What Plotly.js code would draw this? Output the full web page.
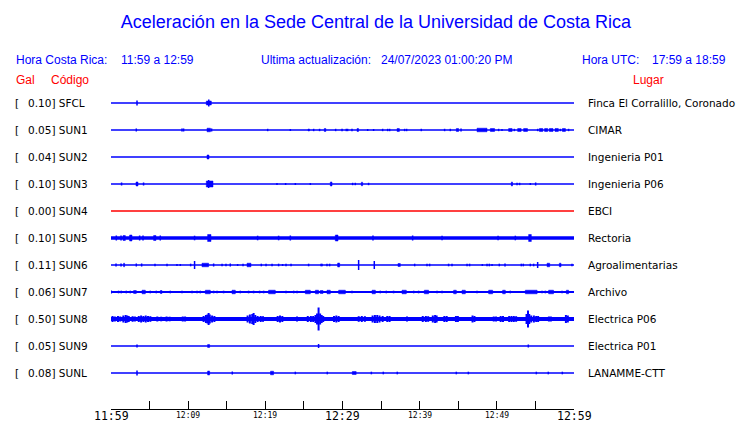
<!DOCTYPE html>
<html>
<head>
<meta charset="utf-8">
<script src="https://cdn.plot.ly/plotly-3.0.1.min.js"></script>
<style>html,body{margin:0;padding:0;background:#fff;}#chart{width:740px;height:423px;}</style>
</head>
<body>
<div id="chart"></div>
<script>
// ---------------- DATA ----------------
const codes = ['SFCL','SUN1','SUN2','SUN3','SUN4','SUN5','SUN6','SUN7','SUN8','SUN9','SUNL'];
const places = ['Finca El Corralillo, Coronado','CIMAR','Ingenieria P01','Ingenieria P06','EBCI','Rectoria',
  'Agroalimentarias','Archivo','Electrica P06','Electrica P01','LANAMME-CTT'];
const galValues = [0.10,0.05,0.04,0.10,0.00,0.10,0.11,0.06,0.50,0.05,0.08];

// events per station: [minute since 11:59, duration (min), relative amplitude]
const ev_SFCL = [[3.37,0,2.5],[12.35,0.65,2],[12.67,0,3.5]];
const ev_SUN1 = [[3.28,0,1.5],[9.20,0,1.5],[9.41,0,1.5],[12.44,0.45,1.8],[13.04,0,1.5],[20.30,0,1.2],[23.24,0,1],
  [25.53,0.2,1],[26.26,0,1.2],[27.03,0,1.2],[27.64,0.2,1.5],[29.11,0,1.2],[29.94,0,1.2],[30.49,0,1.2],[30.66,0,1.2],
  [31.23,0,1.2],[31.88,0.2,1.5],[33.26,0,1],[34.03,0,1],[35.20,0,1.2],[35.85,0,1.2],[36.11,0,1.2],[37.07,0.3,1.5],
  [38.05,0,1.2],[38.31,0,1.2],[40.21,0,1.2],[43.23,0,1.2],[43.97,0,1.2],[44.75,0.3,1.5],[45.36,0,1.5],[47.43,1.3,1.8],
  [49.16,0.55,1.5],[50.23,0,1.2],[50.67,0,1],[51.53,0.45,1.5],[52.27,0,1.2],[52.70,0.45,1.5],[53.47,0.5,1.5],
  [55.29,0,1.2],[55.51,0.45,1.5],[56.19,0.4,1.5],[56.80,0.48,1.5],[57.54,0.43,1.5],[58.23,0,1.2],[58.49,0.4,1.5],[59.30,0,1.2]];
const ev_SUN2 = [[12.44,0.26,2]];
const ev_SUN3 = [[1.37,0,1.5],[3.24,0.26,2],[4.22,0,1.5],[12.35,0.87,3],[12.65,0,4],[21.51,0,1],[22.63,0,1],[23.89,0,1],
  [25.83,0,1],[28.42,0.22,2],[31.31,0,1.2],[31.66,0,1.2],[32.44,0.17,1.8],[33.38,0,1.2],[51.88,0.15,2],[52.62,0,1.2],
  [52.95,0,1.2],[54.34,0,1],[55.03,0,1.5]];
const ev_SUN4 = [];
const ev_SUN5 = [[0.69,0,2.5],[1.30,0,2.5],[1.56,0.3,2.5],[2.41,0.31,3],[3.71,0,2.5],[4.15,0,2.5],[5.52,0.31,2.5],[6.39,0,2.5],
  [10.83,0,2.3],[12.52,0.44,3.5],[19.00,0,2.3],[21.72,0,2.3],[23.24,0,2.5],[29.07,0.35,3],[33.95,0,2.5],[39.09,0,2.5],
  [42.90,0,2.3],[50.16,0,2.3],[52.40,0,2.3],[54.12,0.35,3.5]];
const ev_SUN6 = [[0.65,0,1.5],[1.30,0,1.5],[1.63,0.13,1.8],[3.28,0,1.5],[3.97,0,1.5],[5.70,0,1.3],[7.26,0,1.3],[8.55,0,1],
  [8.98,0,1],[10.32,0,1.3],[10.83,0,4],[11.79,0.86,1.8],[13.30,0,1.5],[14.39,0,1.3],[14.90,0,1.3],[15.46,0,1.5],[16.41,0,1],
  [17.11,0,1.3],[17.63,0.51,1.8],[19.48,0,1.3],[20.09,0,1.3],[20.87,0,1.3],[21.72,0,1.3],[22.24,0,1],[22.68,0,1.3],
  [23.33,0,1.3],[25.61,0,1.3],[27.22,0,1.3],[27.35,0,1.3],[27.99,0,1.3],[28.33,0,1.3],[29.37,0.26,2],[32.09,0,5],[34.12,0,4],
  [37.19,0.3,1.5],[39.35,0,1.3],[40.95,0,1.3],[41.29,0,1.3],[43.75,0,1.3],[44.19,0,1.3],[46.14,0,1.3],[46.47,0,1.3],
  [48.12,0,1],[48.73,0,1.3],[49.03,0,1.3],[49.38,0,1],[50.32,0,1.3],[51.06,0,1.5],[53.17,0,1.3],[53.43,0,1.3],[54.34,0,1.3],
  [54.77,0,1.3],[55.29,0,3],[56.51,0.34,1.8],[58.10,0.22,1.8],[59.74,0,1.3]];
const ev_SUN7 = [[0.04,0,1.5],[0.98,0,1.3],[1.33,0,1.3],[1.98,0,1.3],[2.50,0,1.3],[2.93,0.35,1.5],[4.02,0.43,1.8],[5.09,0,1.3],
  [5.87,0,1.3],[6.39,0.22,1.5],[7.69,0,1.3],[9.20,0,1.3],[10.50,0,1.3],[11.15,0,1.3],[11.57,0,1.3],[12.22,0.65,1.8],[13.30,0,1.3],
  [13.74,0,1.3],[14.59,0,1.3],[15.68,0.43,1.8],[16.76,0,1.3],[17.83,0,1.3],[18.48,0,1.3],[19.26,0,1.3],[19.78,0,1.3],
  [20.42,0.87,1.8],[22.68,0,1.3],[23.67,0,1.3],[24.11,0,1.3],[25.18,0.65,1.8],[26.48,0.42,1.8],[27.12,0.36,1.5],[27.99,0.43,1.8],
  [29.50,0.87,1.8],[31.23,0,1.3],[33.83,0.43,1.8],[34.90,0,1.3],[35.68,0,1.3],[36.62,0,1.3],[37.71,0.56,1.8],[39.22,0,1.3],
  [39.86,0,1.3],[40.60,0.56,1.8],[42.25,0,1.3],[42.90,0,1.3],[44.40,0.35,1.8],[45.49,0.43,1.8],[47.43,0,1.3],[48.94,0.52,1.8],
  [50.75,0.35,1.8],[51.75,0,1.3],[53.69,1.53,1.8],[55.86,0,1.3],[56.29,0,1.3],[56.71,0.64,1.8],[58.45,0,1.3],[59.01,0.29,1.8]];
// SUN8: bursts listed as individual spikes [minute, 0, amplitude]
const ev_SUN8 = [[0.2,0,3],[0.5,0,2.5],[0.9,0,3],[1.2,0,2.5],[1.6,0,3.5],[1.9,0,4],[2.1,0,3.5],[2.3,0,3],[2.8,0,2.8],[3.1,0,2.5],
  [3.6,0,3],[3.9,0,3.5],[4.2,0,3],[4.5,0,3.5],[4.8,0,3],[5.1,0,2.8],[6.0,0,2.5],[6.5,0,2.3],[7.2,0,2.5],[7.6,0,2.3],
  [9.3,0,2.5],[9.6,0,2.5],[12.0,0,3],[12.3,0,4],[12.5,0,4.5],[12.65,0,6],[12.8,0,4.5],[13.1,0,3.5],[13.4,0,3],
  [17.7,0,3.5],[18.0,0,4.5],[18.3,0,5],[18.48,0,6],[18.7,0,4],[19.0,0,3],[19.4,0,3],[19.7,0,2.8],[21.6,0,3],[21.9,0,3.5],[22.2,0,3],
  [24.11,0,2.5],[25.5,0,3],[25.9,0,3],[26.2,0,3],[26.5,0,4],[26.7,0,5.5],[26.9,0,11.5],[27.1,0,5.5],[27.3,0,4],[27.5,0,3],
  [28.9,0,3],[29.2,0,3.5],[29.5,0,3],[32.1,0,2.8],[32.5,0,3],[32.9,0,2.8],[33.9,0,3.5],[34.2,0,4],[34.5,0,4],[34.8,0,3.5],[35.2,0,3],
  [35.8,0,3],[36.1,0,3],[38.36,0,2.5],[40.4,0,3],[40.8,0,3],[41.1,0,2.8],[41.7,0,3.5],[42.0,0,4],[42.2,0,3.5],[43.2,0,3],[43.5,0,3],
  [44.7,0,3],[44.95,0,3],[46.85,0,3.5],[47.1,0,3],[49.6,0,2.5],[49.9,0,2.5],[50.5,0,3],[50.8,0,3],[51.6,0,3],[51.9,0,3],[52.2,0,3],
  [52.5,0,2.8],[53.85,0,5],[54.04,0,8.5],[54.2,0,5],[54.45,0,3.5],[54.8,0,3.5],[55.1,0,3],[55.35,0,3],[56.75,0,2.5],[57.0,0,2.5],
  [58.95,0,4],[59.2,0,3.5]];
const ev_SUN9 = [[3.37,0,1.5],[12.52,0.26,1.5],[26.90,0,2],[54.08,0,1.5]];
const ev_SUNL = [[3.37,0,2.5],[12.52,0.26,2],[15.72,0,1.5],[20.67,0.4,1.8],[23.89,0,1.3],[28.03,0,1.3],[31.27,0.5,1.5],
  [33.74,0,1.3],[35.29,0,1.3],[37.10,0,1.3],[44.75,0,1.3],[46.31,0,1.3],[55.12,0,1.3],[56.67,0,1.3],[58.49,0,1.3]];
const events = [ev_SFCL,ev_SUN1,ev_SUN2,ev_SUN3,ev_SUN4,ev_SUN5,ev_SUN6,ev_SUN7,ev_SUN8,ev_SUN9,ev_SUNL];

const tickMinutes = [0,5,10,15,20,25,30,35,40,45,50,55,60];
const labelMinutes = [0,10,20,30,40,50,60];
const labelTexts = ['11:59','12:09','12:19','12:29','12:39','12:49','12:59'];
const labelBig = [true,false,false,true,false,false,true];

// ---------------- STYLE ----------------
const BLUE = '#0000ff', RED = '#ff0000';
const baseWidth = [1.5,1.5,1.5,1.5,1.5,3.7,1.5,2,4,1.5,1.5];
const lineColor = codes.map((c,i)=> galValues[i]===0 ? RED : BLUE);
const ampScale = 1/27;
const L = 111, R = 574, T = 90, B = 409;
const px2paper = px => (px - L)/(R - L);

const traces = [];
codes.forEach((c,i)=>{
  const y0 = -i;
  traces.push({x:[0,60], y:[y0,y0], mode:'lines', line:{color:lineColor[i], width:baseWidth[i]}, hoverinfo:'skip', showlegend:false});
  const sx=[], sy=[], bx=[], by=[];
  events[i].forEach(([t,d,a])=>{
    const h = a*ampScale;
    if (d===0){ sx.push(t,t,null); sy.push(y0-h,y0+h,null); }
    else { bx.push(t,t+d,t+d,t,t,null); by.push(y0-h,y0-h,y0+h,y0+h,y0-h,null); }
  });
  const sw = i===8 ? 2 : 1.5;
  if (sx.length) traces.push({x:sx, y:sy, mode:'lines', line:{color:lineColor[i], width:sw}, hoverinfo:'skip', showlegend:false});
  if (bx.length) traces.push({x:bx, y:by, mode:'lines', fill:'toself', fillcolor:lineColor[i], line:{color:lineColor[i], width:0.5}, hoverinfo:'skip', showlegend:false});
});

const ann = [];
const labFont = {family:'DejaVu Sans', size:10.5, color:'#000'};
codes.forEach((c,i)=>{
  ann.push({xref:'paper', yref:'y', x:px2paper(14), y:-i, text:'[', showarrow:false, xanchor:'left', yanchor:'middle', font:labFont, borderpad:0});
  ann.push({xref:'paper', yref:'y', x:px2paper(27), y:-i, text:galValues[i].toFixed(2)+'] '+c, showarrow:false, xanchor:'left', yanchor:'middle', font:labFont, borderpad:0});
  ann.push({xref:'paper', yref:'y', x:px2paper(587), y:-i, text:places[i], showarrow:false, xanchor:'left', yanchor:'middle', font:labFont, borderpad:0});
});
labelMinutes.forEach((m,k)=>{
  ann.push({xref:'x', yref:'paper', x:m, y:(B - 415.5)/(B - T), text:labelTexts[k], showarrow:false, xanchor:'center', yanchor:'middle',
    font:{family:'DejaVu Sans Mono', size: labelBig[k]?11.5:8, color:'#000'}, borderpad:0});
});
const hdrFont = {family:'Liberation Sans', size:12, color:BLUE};
const redFont = {family:'Liberation Sans', size:12, color:RED};
const headers = [
  ['Hora Costa Rica:',15,60,hdrFont],['11:59 a 12:59',120,60,hdrFont],['Ultima actualización:',260,60,hdrFont],
  ['24/07/2023 01:00:20 PM',380,60,hdrFont],['Hora UTC:',580.5,60,hdrFont],['17:59 a 18:59',650.5,60,hdrFont],
  ['Gal',15,80,redFont],['Código',50,80,redFont],['Lugar',631.5,80,redFont]
];
headers.forEach(([t,x,y,f])=>{
  ann.push({xref:'paper', yref:'paper', x:px2paper(x), y:(B - y)/(B - T), text:t, showarrow:false, xanchor:'left', yanchor:'middle', font:f, borderpad:0});
});

const layout = {
  width:740, height:423,
  margin:{l:L, r:740-R, t:T, b:423-B},
  paper_bgcolor:'#fff', plot_bgcolor:'#fff',
  title:{text:'Aceleración en la Sede Central de la Universidad de Costa Rica', x:376/740, xanchor:'center', y:1-22/423, yanchor:'middle',
    font:{family:'Liberation Sans', size:18, color:BLUE}},
  xaxis:{range:[0,60], tickmode:'array', tickvals:tickMinutes, ticks:'inside', ticklen:8, tickwidth:1, tickcolor:'#000',
    showticklabels:false, showline:true, linecolor:'#000', linewidth:1, showgrid:false, zeroline:false, fixedrange:true},
  yaxis:{range:[-11.333, 0.481], visible:false, showgrid:false, zeroline:false, fixedrange:true},
  annotations:ann,
  showlegend:false
};
Plotly.newPlot('chart', traces, layout, {displayModeBar:false, staticPlot:true});
</script>
</body>
</html>
